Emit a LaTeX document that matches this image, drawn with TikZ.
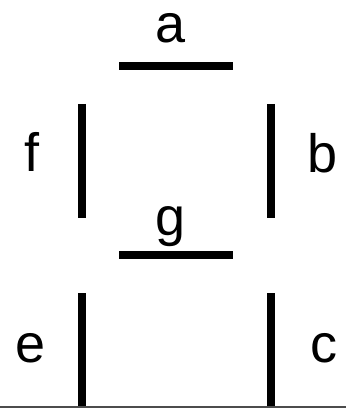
\documentclass[tikz,border=0pt]{standalone}
\usepackage{fontspec}
\setmainfont{Liberation Sans}
\usetikzlibrary{positioning}
\begin{document}
\begin{tikzpicture}[
  x=1pt,y=-1pt,
  seg/.style={line width=8pt,black},
  lbl/.style={anchor=base,inner sep=0pt,font=\fontsize{54}{60}\selectfont}
]
\useasboundingbox (0,0) rectangle (346,409);
% horizontal segments
\draw[seg] (119,66) -- (233,66);
\draw[seg] (119,255) -- (233,255);
% upper vertical segments
\draw[seg] (82,104) -- (82,218);
\draw[seg] (271,104) -- (271,218);
% lower vertical segments
\draw[seg] (82,293) -- (82,407);
\draw[seg] (271,293) -- (271,407);
% base line
\draw[line width=2pt,black!70] (0,407) -- (346,407);
% segment labels
\node[lbl] (la) at (171,43) {a};
\node[lbl] (lb) at (323,172) {b};
\node[lbl] (lc) at (324,362) {c};
\node[lbl] (le) at (31,362) {e};
\node[lbl] (lf) at (32,171) {f};
\node[lbl] (lg) at (171,235) {g};
\end{tikzpicture}
\end{document}
